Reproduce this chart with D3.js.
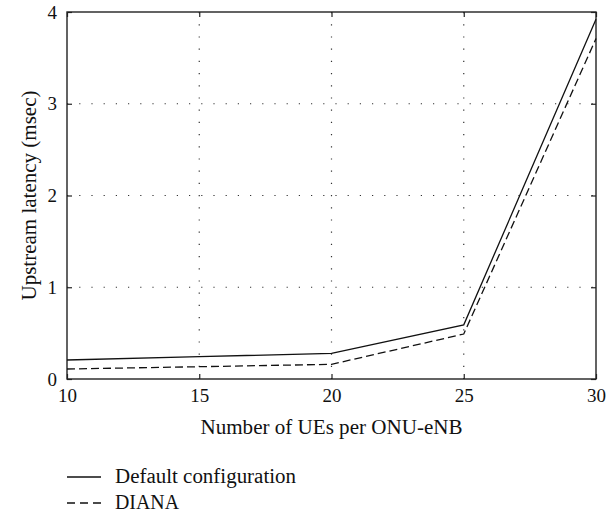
<!DOCTYPE html>
<html><head><meta charset="utf-8">
<script src="https://cdn.jsdelivr.net/npm/d3@7"></script>
<style>body{margin:0;background:#fff}svg{display:block}</style>
</head><body>
<script>
const xValues = [10, 15, 20, 25, 30];
const defaultConfig = [0.207, 0.243, 0.28, 0.59, 3.92];
const diana = [0.109, 0.134, 0.16, 0.49, 3.71];
const xTicks = [10, 15, 20, 25, 30];
const yTicks = [0, 1, 2, 3, 4];
const seriesNames = ["Default configuration", "DIANA"];

const W = 614, H = 515;
const m = {l: 67, r: 596, t: 12, b: 379};
const font = "Liberation Serif, Times New Roman, serif";
const svg = d3.select("body").append("svg").attr("width", W).attr("height", H)
  .style("font-family", font);
const x = d3.scaleLinear().domain([10, 30]).range([m.l, m.r]);
const y = d3.scaleLinear().domain([0, 4]).range([m.b, m.t]);

// grid
svg.append("g").selectAll("line").data(xTicks.slice(1, -1)).join("line")
  .attr("x1", d => x(d)).attr("x2", d => x(d)).attr("y1", m.t).attr("y2", m.b)
  .attr("stroke", "#333").attr("stroke-width", 1.2).attr("stroke-dasharray", "1.2,11");
svg.append("g").selectAll("line").data(yTicks.slice(1, -1)).join("line")
  .attr("y1", d => y(d)).attr("y2", d => y(d)).attr("x1", m.l).attr("x2", m.r)
  .attr("stroke", "#333").attr("stroke-width", 1.2).attr("stroke-dasharray", "1.2,11");

// axes
const tickLen = 5;
const fmt = d3.format("d");
const xAxis = svg.append("g").attr("transform", `translate(0,${m.b})`)
  .call(d3.axisBottom(x).tickValues(xTicks).tickFormat(fmt).tickSizeInner(-tickLen).tickSizeOuter(0).tickPadding(10));
const yAxis = svg.append("g").attr("transform", `translate(${m.l},0)`)
  .call(d3.axisLeft(y).tickValues(yTicks).tickFormat(fmt).tickSizeInner(-tickLen).tickSizeOuter(0).tickPadding(10));
const xTop = svg.append("g").attr("transform", `translate(0,${m.t})`)
  .call(d3.axisTop(x).tickValues(xTicks).tickSizeInner(-tickLen).tickSizeOuter(0).tickFormat(""));
const yRight = svg.append("g").attr("transform", `translate(${m.r},0)`)
  .call(d3.axisRight(y).tickValues(yTicks).tickSizeInner(-tickLen).tickSizeOuter(0).tickFormat(""));
[xAxis, yAxis, xTop, yRight].forEach(g => {
  g.attr("font-family", null).attr("font-size", null);
  g.select(".domain").remove();
  g.selectAll("line").attr("stroke", "#222").attr("stroke-width", 1.2);
  g.selectAll("text").style("font-family", font).style("font-size", "19px").attr("fill", "#111");
});
svg.append("rect").attr("x", m.l).attr("y", m.t).attr("width", m.r - m.l).attr("height", m.b - m.t)
  .attr("fill", "none").attr("stroke", "#222").attr("stroke-width", 1.4);

// lines
const line = d3.line().x((d, i) => x(xValues[i])).y(d => y(d));
svg.append("path").datum(defaultConfig).attr("d", line).attr("fill", "none")
  .attr("stroke", "#111").attr("stroke-width", 1.3);
svg.append("path").datum(diana).attr("d", line).attr("fill", "none")
  .attr("stroke", "#111").attr("stroke-width", 1.3).attr("stroke-dasharray", "8,4");

// labels
svg.append("text").attr("x", (m.l + m.r) / 2).attr("y", 434).attr("text-anchor", "middle")
  .style("font-size", "20px").attr("fill", "#111")
  .attr("textLength", 262).attr("lengthAdjust", "spacingAndGlyphs")
  .text("Number of UEs per ONU-eNB");
svg.append("text").attr("transform", `translate(36,${(m.t + m.b) / 2}) rotate(-90)`)
  .attr("text-anchor", "middle").style("font-size", "20px").attr("fill", "#111")
  .attr("textLength", 210).attr("lengthAdjust", "spacingAndGlyphs")
  .text("Upstream latency (msec)");

// legend
const legLens = [181, 64];
const leg = svg.append("g");
seriesNames.forEach((n, i) => {
  const yy = 477 + i * 26;
  leg.append("line").attr("x1", 67).attr("x2", 101).attr("y1", yy).attr("y2", yy)
    .attr("stroke", "#111").attr("stroke-width", 1.3)
    .attr("stroke-dasharray", i === 1 ? "8,5" : null);
  leg.append("text").attr("x", 115).attr("y", yy + 6)
    .style("font-size", "20px").attr("fill", "#111")
    .attr("textLength", legLens[i]).attr("lengthAdjust", "spacingAndGlyphs").text(n);
});
</script>
</body></html>
